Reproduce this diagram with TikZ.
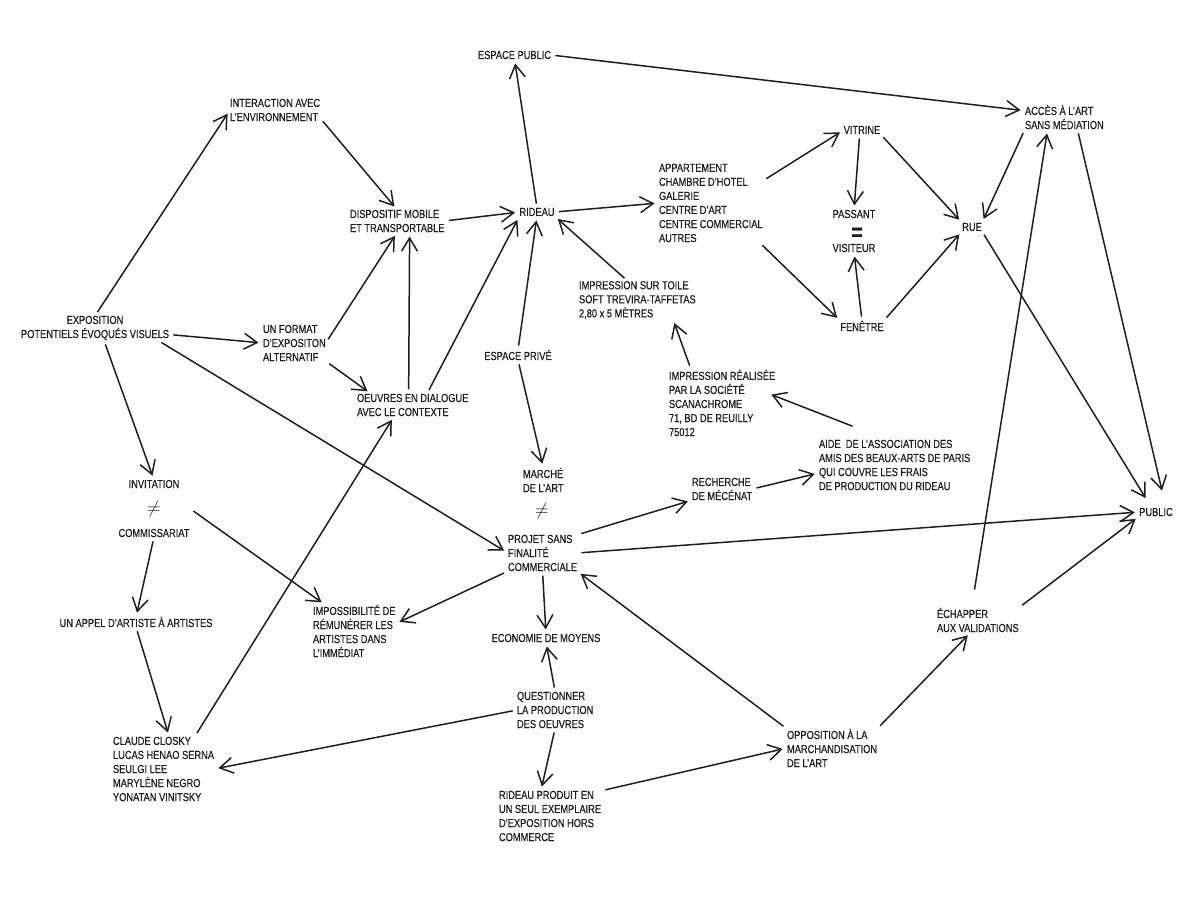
\documentclass[tikz,border=0pt]{standalone}
\usepackage{fontspec}
\setmainfont[FakeStretch=0.8,FakeBold=0.5]{Liberation Sans}
\usepackage{tikz}
\usetikzlibrary{arrows.meta,calc,fit}

\definecolor{encre}{HTML}{1E1E1E}

\tikzset{
  txt/.style={inner sep=0pt, outer sep=0pt, align=left, anchor=west, text=encre, font=\fontsize{6.6}{8}\selectfont},
  ctxt/.style={inner sep=0pt, outer sep=0pt, align=center, text=encre, font=\fontsize{6.6}{8}\selectfont},
  fl/.style={-{Straight Barb[length=7.5pt,width=9pt]}, draw=encre, line width=0.85pt, shorten >=2.5pt, shorten <=2.5pt}
}

\begin{document}
\begin{tikzpicture}[x=0.2mm,y=-0.2mm]

\fill[white] (0,0) rectangle (1200,900);
\useasboundingbox (0,0) rectangle (1200,900);

%-----------------------------------------------------
\node[txt] (pub) at (478,55) {ESPACE PUBLIC};
\node[txt] (inter) at (230,110) {INTERACTION AVEC\\L’ENVIRONNEMENT};
\node[txt] (dispo) at (350,221) {DISPOSITIF MOBILE\\ET TRANSPORTABLE};
\node[ctxt] (rideau) at (537,212) {RIDEAU};
\node[txt] (lieux) at (659,203) {APPARTEMENT\\CHAMBRE D’HOTEL\\GALERIE\\CENTRE D’ART\\CENTRE COMMERCIAL\\AUTRES};
\node[ctxt] (vitrine) at (862,130) {VITRINE};
\node[ctxt] (passant) at (854,214) {PASSANT};
\node[ctxt] (egal) at (857,234) {\fontsize{14}{14}\selectfont\bfseries =};
\node[ctxt] (visiteur) at (854,248) {VISITEUR};
\node[ctxt] (rue) at (972,227) {RUE};
\node[txt] (acces) at (1025,117) {ACCÈS À L’ART\\SANS MÉDIATION};
\node[ctxt] (fenetre) at (862,326) {FENÊTRE};
\node[txt] (toile) at (579,300) {IMPRESSION SUR TOILE\\SOFT TREVIRA-TAFFETAS\\2,80 x 5 MÈTRES};

%-----------------------------------------------------
\node[ctxt] (expo) at (95,328) {EXPOSITION\\POTENTIELS ÉVOQUÉS VISUELS};
\node[txt] (format) at (263,343) {UN FORMAT\\D’EXPOSITON\\ALTERNATIF};
\node[txt] (oeuvres) at (357,405) {OEUVRES EN DIALOGUE\\AVEC LE CONTEXTE};
\node[ctxt] (prive) at (518,355) {ESPACE PRIVÉ};
\node[txt] (scana) at (669,403) {IMPRESSION RÉALISÉE\\PAR LA SOCIÉTÉ\\SCANACHROME\\71, BD DE REUILLY\\75012};
\node[txt] (aide) at (819,465) {AIDE\ \ DE L’ASSOCIATION DES\\AMIS DES BEAUX-ARTS DE PARIS\\QUI COUVRE LES FRAIS\\DE PRODUCTION DU RIDEAU};

\node[txt] (marche) at (523,480) {MARCHÉ\\DE L’ART};
\node[ctxt] (neqB) at (542,511) {\fontsize{10}{10}\selectfont$\neq$};
\node[txt] (projet) at (508,553) {PROJET SANS\\FINALITÉ\\COMMERCIALE};
\node[txt] (mecenat) at (692,489) {RECHERCHE\\DE MÉCÉNAT};

\node[ctxt] (invit) at (154,484) {INVITATION};
\node[ctxt] (neqA) at (154,509) {\fontsize{10}{10}\selectfont$\neq$};
\node[ctxt] (commis) at (154,533) {COMMISSARIAT};
\node[fit=(invit)(commis), inner sep=0pt] (invgrp) {};
\node[ctxt] (public) at (1156,512) {PUBLIC};

%-----------------------------------------------------
\node[ctxt] (appel) at (136,622) {UN APPEL D’ARTISTE À ARTISTES};
\node[txt] (imposs) at (313,631) {IMPOSSIBILITÉ DE\\RÉMUNÉRER LES\\ARTISTES DANS\\L’IMMÉDIAT};
\node[ctxt] (eco) at (546,638) {ECONOMIE DE MOYENS};
\node[txt] (quest) at (517,710) {QUESTIONNER\\LA PRODUCTION\\DES OEUVRES};
\node[txt] (claude) at (113,769) {CLAUDE CLOSKY\\LUCAS HENAO SERNA\\SEULGI LEE\\MARYLÈNE NEGRO\\YONATAN VINITSKY};
\node[txt] (produit) at (499,816) {RIDEAU PRODUIT EN\\UN SEUL EXEMPLAIRE\\D’EXPOSITION HORS\\COMMERCE};
\node[txt] (oppo) at (787,748) {OPPOSITION À LA\\MARCHANDISATION\\DE L’ART};
\node[txt] (echap) at (937,620) {ÉCHAPPER\\AUX VALIDATIONS};

%-----------------------------------------------------
\draw[fl] (expo.north) -- (inter.west);
\draw[fl] (inter.-10) -- (dispo.north);
\draw[fl] (format.east) -- (dispo.south);
\draw[fl] (dispo.east) -- (rideau.west);
\draw[fl] (rideau.north) -- (pub.south);
\draw[fl] (rideau.east) -- (lieux.west);
\draw[fl] (pub.east) -- (acces.171);
\draw[fl] (lieux.23) -- (vitrine.west);
\draw[fl] (lieux.-39) -- (fenetre.north west);
\draw[fl] (vitrine.-120) -- (passant.north);
\draw[fl] (vitrine.south east) -- (rue.north west);
\draw[fl] (fenetre.north) -- (visiteur.south);
\draw[fl] (fenetre.north east) -- (rue.south west);
\draw[fl] (acces.south west) -- (rue.north east);
\draw[fl] (rue.south east) -- ($(public.north)+(-8,-6)$);
\draw[fl] (acces.-43) -- ($(public.north)+(7,-13)$);
\draw[fl] ($(echap.north)+(-4,-14)$) -- (acces.-144);
\draw[fl] (echap.north east) -- (public.south west);
\draw[fl] (projet.east) -- (public.west);

%-----------------------------------------------------
\draw[fl] (oppo.north east) -- (echap.-120);
\draw[fl] (oppo.north west) -- (projet.south east);
\draw[fl] (produit.north east) -- (oppo.west);
\draw[fl] (quest.south) -- (produit.110);
\draw[fl] (quest.north) -- (eco.south);
\draw[fl] (quest.west) -- (claude.east);
\draw[fl] (projet.south) -- (eco.north);
\draw[fl] (projet.south west) -- (imposs.10);
\draw[fl] (invgrp.east) -- (imposs.138);
\draw[fl] (commis.south) -- (appel.north);
\draw[fl] (appel.south) -- (claude.80);
\draw[fl] (claude.46) -- (oeuvres.-149);

%-----------------------------------------------------
\draw[fl] (expo.-5) -- (format.west);
\draw[fl] (expo.-54) -- (invit.north);
\draw[fl] (expo.-11) -- (projet.west);
\draw[fl] (format.south east) -- (oeuvres.165);
\draw[fl] (oeuvres.110) -- (dispo.-42);
\draw[fl] (oeuvres.38) -- (rideau.south west);
\draw[fl] (prive.north) -- (rideau.south);
\draw[fl] (toile.117) -- (rideau.south east);
\draw[fl] (prive.south) -- (marche.north);
\draw[fl] (scana.133) -- (toile.-28);
\draw[fl] ($(aide.north)+(-38,-12)$) -- ($(scana.east)+(-8,-10)$);
\draw[fl] (mecenat.east) -- (aide.186);
\draw[fl] (projet.north east) -- (mecenat.south west);

\end{tikzpicture}
\end{document}
